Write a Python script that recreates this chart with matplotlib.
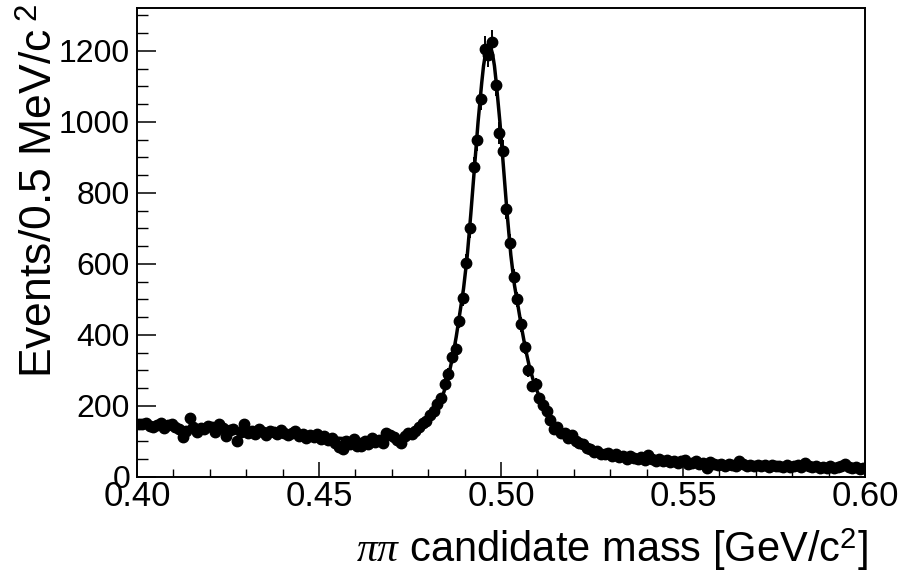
import matplotlib
matplotlib.use("Agg")
import matplotlib.pyplot as plt
from matplotlib.ticker import MultipleLocator, FormatStrFormatter
import numpy as np

# 1 MeV wide bins from 0.400 to 0.600 GeV
bin_low = 0.400
bin_width = 0.001

counts = [
    150, 148, 152, 145, 140, 147, 153, 138, 146, 150,
    140, 135, 112, 130, 165, 142, 128, 138, 134, 145,
    140, 128, 150, 138, 115, 132, 136, 100, 128, 150,
    125, 130, 122, 134, 126, 118, 130, 127, 120, 132,
    125, 118, 124, 130, 116, 122, 110, 118, 112, 120,
    108, 115, 104, 110, 96, 84, 80, 100, 92, 106,
    88, 86, 100, 94, 110, 98, 104, 96, 124, 118,
    112, 104, 96, 115, 124, 122, 130, 140, 152, 158,
    176, 185, 206, 222, 262, 290, 338, 360, 440, 505,
    603, 700, 873, 950, 1065, 1206, 1190, 1225, 1105, 968,
    918, 755, 660, 563, 500, 430, 365, 300, 255, 262,
    222, 203, 185, 160, 136, 140, 125, 124, 110, 118,
    100, 96, 92, 82, 78, 70, 74, 66, 64, 68,
    60, 64, 56, 58, 52, 60, 54, 50, 56, 48,
    62, 50, 46, 52, 44, 48, 42, 46, 40, 44,
    48, 38, 40, 44, 36, 40, 26, 42, 36, 34,
    38, 32, 36, 34, 30, 46, 36, 32, 34, 30,
    35, 31, 33, 28, 34, 30, 32, 29, 33, 27,
    30, 34, 28, 40, 30, 27, 31, 26, 29, 24,
    30, 26, 28, 32, 38, 28, 24, 27, 23, 25,
]

# fit curve
fit_mass = [
    0.400, 0.410, 0.420, 0.430, 0.440, 0.450, 0.460, 0.465, 0.470, 0.472,
    0.474, 0.4755, 0.477, 0.4785, 0.480, 0.4815, 0.4827, 0.4837, 0.4847, 0.4857,
    0.4867, 0.4877, 0.4887, 0.4897, 0.4907, 0.4917, 0.4927, 0.4937, 0.4947, 0.4952,
    0.4957, 0.4962, 0.4967, 0.4972, 0.4977, 0.4982, 0.4987, 0.4997, 0.5007, 0.5017,
    0.5027, 0.5037, 0.5047, 0.5057, 0.5067, 0.5077, 0.5087, 0.5097, 0.5107, 0.5117,
    0.5130, 0.5145, 0.5160, 0.5180, 0.5200, 0.5225, 0.5250, 0.5275, 0.5300, 0.5350,
    0.5400, 0.5450, 0.5500, 0.5600, 0.5700, 0.5800, 0.5900, 0.6000,
]
fit_vals = [
    148, 141, 134, 127, 120, 113, 106, 105, 109, 112,
    117, 124, 134, 145, 158, 176, 196, 220, 252, 290,
    338, 395, 462, 530, 620, 740, 870, 1000, 1110, 1158,
    1190, 1210, 1217, 1210, 1190, 1158, 1110, 1000, 870, 740,
    625, 540, 480, 418, 362, 315, 278, 248, 222, 198,
    168, 146, 130, 112, 100, 88, 78, 70, 64, 57,
    52, 48, 44, 38, 34, 31, 28, 25,
]


def main():
    plt.rcParams['font.family'] = ['Liberation Sans', 'DejaVu Sans']
    plt.rcParams['mathtext.fontset'] = 'custom'
    plt.rcParams['mathtext.rm'] = 'Liberation Sans'
    plt.rcParams['mathtext.it'] = 'Liberation Serif:italic'

    fig = plt.figure(figsize=(9.04, 5.74), dpi=100)
    ax = fig.add_axes([137 / 904, 1 - 477 / 574, (865 - 137) / 904, (477 - 8) / 574])

    counts_arr = np.array(counts, dtype=float)
    centers = bin_low + bin_width * (np.arange(len(counts)) + 0.5)

    ax.errorbar(centers, counts_arr, yerr=np.sqrt(counts_arr), fmt='o', color='black',
                ms=7.5, elinewidth=1.4, capsize=0, zorder=3)
    ax.plot(fit_mass, fit_vals, color='black', lw=2.5, zorder=4)

    ax.set_xlim(0.40, 0.60)
    ax.set_ylim(0, 1321)

    ax.xaxis.set_major_locator(MultipleLocator(0.05))
    ax.xaxis.set_minor_locator(MultipleLocator(0.01))
    ax.xaxis.set_major_formatter(FormatStrFormatter('%.2f'))
    ax.yaxis.set_major_locator(MultipleLocator(200))
    ax.yaxis.set_minor_locator(MultipleLocator(50))

    ax.tick_params(axis='x', which='major', direction='in', length=11, width=1.1,
                   labelsize=25, pad=2, top=False)
    ax.tick_params(axis='x', which='minor', direction='in', length=6, width=1.0, top=False)
    ax.tick_params(axis='y', which='major', direction='in', length=14, width=1.1,
                   labelsize=23, pad=5, right=False)
    ax.tick_params(axis='y', which='minor', direction='in', length=8, width=1.0, right=False)

    for side in ax.spines.values():
        side.set_linewidth(1.4)

    fig.text(868 / 904, 1 - 550 / 574, r'$\pi\pi$ candidate mass [GeV/c$^{2}$]',
             ha='right', va='center', fontsize=30)
    fig.text(40 / 904, 1 - 4 / 574, r'Events/0.5 MeV/c$^{\ 2}$',
             ha='center', va='top', rotation=90, fontsize=32)

    fig.savefig('out.png', dpi=100)


if __name__ == "__main__":
    main()
